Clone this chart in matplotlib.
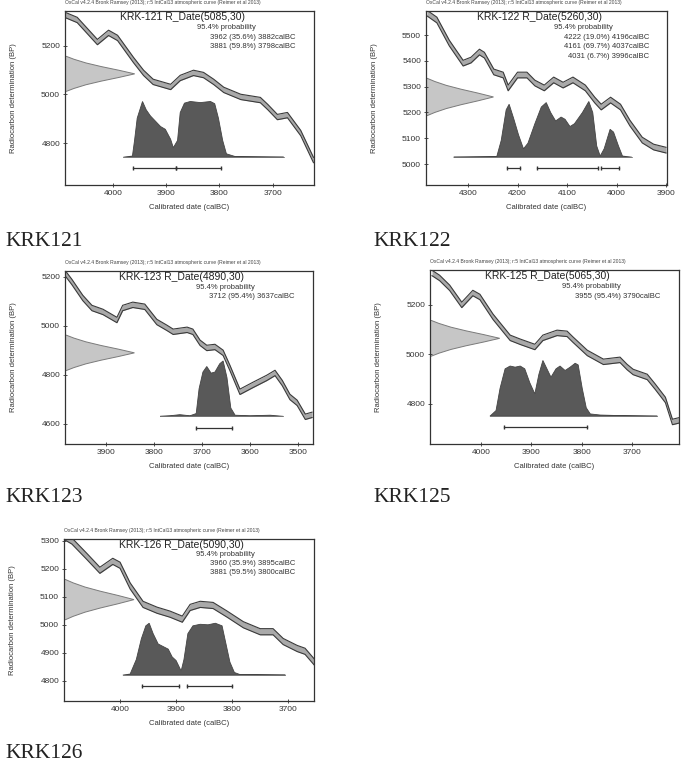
import matplotlib
matplotlib.use("Agg")
import matplotlib.pyplot as plt
import matplotlib.transforms as mtransforms

# ================= data =================
header = "OxCal v4.2.4 Bronk Ramsey (2013); r:5 IntCal13 atmospheric curve (Reimer et al 2013)"

# shape of the radiocarbon measurement (offset in sigma, relative density)
c14_sigma_steps = [-2.4, -2.0, -1.5, -1.0, -0.5, 0.0, 0.5, 1.0, 1.5, 2.0, 2.4]
c14_density = [0.02, 0.13, 0.3, 0.52, 0.77, 1.0, 0.77, 0.52, 0.3, 0.13, 0.02]

# --- KRK-121 ---
krk121_date = (5085, 30)
krk121_curve_cal = [4091, 4068, 4030, 4009, 3992, 3962, 3943, 3925, 3892, 3874, 3849, 3830,
                    3811, 3792, 3760, 3723, 3709, 3691, 3672, 3647, 3623]
krk121_curve_bp = [5328, 5307, 5216, 5254, 5233, 5142, 5089, 5052, 5031, 5068, 5089, 5080,
                   5052, 5019, 4990, 4977, 4948, 4907, 4915, 4841, 4730]
krk121_dist_cal = [3981, 3964, 3960, 3955, 3945, 3938, 3930, 3921, 3911, 3902, 3892, 3887,
                   3879, 3874, 3866, 3855, 3836, 3817, 3809, 3802, 3794, 3787, 3770, 3679]
krk121_dist_prob = [0, 0.02, 0.3, 0.7, 1.0, 0.85, 0.74, 0.65, 0.55, 0.5, 0.32, 0.17,
                    0.3, 0.8, 0.97, 1.0, 0.98, 1.0, 0.96, 0.7, 0.3, 0.06, 0.01, 0]
krk121_range_from = [3962, 3881]
krk121_range_to = [3882, 3798]
krk121_range_pct = [35.6, 59.8]

# --- KRK-122 ---
krk122_date = (5260, 30)
krk122_curve_cal = [4383, 4363, 4338, 4310, 4294, 4277, 4267, 4248, 4229, 4219, 4200, 4181, 4165,
                    4146, 4127, 4108, 4088, 4063, 4044, 4031, 4012, 3992, 3973, 3948, 3925, 3900]
krk122_curve_bp = [5585, 5558, 5469, 5391, 5403, 5434, 5422, 5357, 5345, 5295, 5345, 5345, 5314,
                   5295, 5326, 5306, 5326, 5295, 5248, 5221, 5248, 5221, 5159, 5093, 5066, 5054]
krk122_dist_cal = [4329, 4242, 4233, 4223, 4217, 4208, 4198, 4188, 4179, 4165, 4152, 4142, 4133,
                   4123, 4112, 4104, 4094, 4085, 4069, 4056, 4048, 4040, 4033, 4025, 4013, 4006,
                   3996, 3988, 3969]
krk122_dist_prob = [0, 0.01, 0.3, 0.85, 0.95, 0.7, 0.4, 0.15, 0.25, 0.6, 0.9, 0.98, 0.8,
                    0.65, 0.72, 0.68, 0.55, 0.6, 0.8, 1.0, 0.8, 0.2, 0.02, 0.15, 0.5, 0.45,
                    0.2, 0.02, 0]
krk122_range_from = [4222, 4161, 4031]
krk122_range_to = [4196, 4037, 3996]
krk122_range_pct = [19.0, 69.7, 6.7]

# --- KRK-123 ---
krk123_date = (4890, 30)
krk123_curve_cal = [3985, 3971, 3948, 3929, 3906, 3877, 3865, 3844, 3819, 3794, 3773, 3760, 3731, 3719,
                    3704, 3690, 3673, 3656, 3642, 3621, 3594, 3565, 3548, 3533, 3517, 3502, 3485, 3471]
krk123_curve_bp = [5216, 5180, 5114, 5073, 5057, 5024, 5073, 5086, 5078, 5016, 4992, 4976, 4984, 4976,
                   4931, 4910, 4914, 4890, 4829, 4731, 4759, 4788, 4808, 4767, 4710, 4686, 4629, 4637]
krk123_dist_cal = [3787, 3767, 3746, 3725, 3712, 3706, 3698, 3690, 3681, 3673, 3663, 3656,
                   3648, 3640, 3631, 3600, 3558, 3531]
krk123_dist_prob = [0, 0.01, 0.03, 0.01, 0.05, 0.5, 0.8, 0.9, 0.78, 0.8, 0.95, 1.0,
                    0.7, 0.15, 0.02, 0.01, 0.02, 0]
krk123_range_from = [3712]
krk123_range_to = [3637]
krk123_range_pct = [95.4]

# --- KRK-125 ---
krk125_date = (5065, 30)
krk125_curve_cal = [4097, 4082, 4062, 4038, 4016, 4002, 3976, 3942, 3922, 3893, 3877, 3849,
                    3829, 3817, 3789, 3757, 3724, 3710, 3698, 3670, 3654, 3634, 3620, 3604]
krk125_curve_bp = [5329, 5309, 5269, 5200, 5248, 5232, 5152, 5067, 5051, 5030, 5067, 5087,
                   5083, 5059, 5006, 4970, 4978, 4949, 4929, 4909, 4869, 4816, 4727, 4735]
krk125_dist_cal = [3982, 3970, 3962, 3952, 3942, 3932, 3922, 3913, 3903, 3893, 3885, 3877, 3869,
                   3861, 3851, 3843, 3833, 3823, 3813, 3807, 3799, 3791, 3783, 3763, 3724, 3650]
krk125_dist_prob = [0, 0.1, 0.5, 0.85, 0.9, 0.88, 0.9, 0.85, 0.6, 0.4, 0.75, 1.0, 0.85,
                    0.7, 0.85, 0.9, 0.82, 0.88, 0.95, 0.92, 0.5, 0.15, 0.04, 0.02, 0.01, 0]
krk125_range_from = [3955]
krk125_range_to = [3790]
krk125_range_pct = [95.4]

# --- KRK-126 ---
krk126_date = (5090, 30)
krk126_curve_cal = [4098, 4086, 4059, 4036, 4013, 4000, 3982, 3959, 3934, 3911, 3889,
                    3875, 3857, 3834, 3809, 3780, 3750, 3727, 3709, 3684, 3670, 3652]
krk126_curve_bp = [5314, 5300, 5244, 5195, 5227, 5213, 5139, 5073, 5052, 5038, 5020,
                   5062, 5073, 5069, 5038, 5000, 4975, 4975, 4940, 4915, 4905, 4863]
krk126_dist_cal = [3995, 3982, 3971, 3962, 3954, 3948, 3941, 3932, 3923, 3914, 3907, 3900, 3891,
                   3886, 3879, 3870, 3857, 3843, 3830, 3818, 3811, 3804, 3796, 3786, 3705]
krk126_dist_prob = [0, 0.02, 0.3, 0.7, 0.95, 1.0, 0.8, 0.6, 0.55, 0.5, 0.35, 0.28, 0.08,
                    0.3, 0.8, 0.95, 0.98, 0.97, 1.0, 0.95, 0.6, 0.25, 0.05, 0.01, 0]
krk126_range_from = [3960, 3881]
krk126_range_to = [3895, 3800]
krk126_range_pct = [35.9, 59.5]

# ================= layout (pixels in a 681x768 figure) =================
W, H = 681, 768
panels = [
    dict(name="KRK-121", caption="KRK121", date=krk121_date,
         curve=(krk121_curve_cal, krk121_curve_bp), dist=(krk121_dist_cal, krk121_dist_prob),
         ranges=(krk121_range_from, krk121_range_to, krk121_range_pct),
         box=(65, 11, 314, 185), xlim=(4091, 3622), ylim=(4627, 5344),
         xticks=[4000, 3900, 3800, 3700], yticks=[4800, 5000, 5200], cap=(5, 241)),
    dict(name="KRK-122", caption="KRK122", date=krk122_date,
         curve=(krk122_curve_cal, krk122_curve_bp), dist=(krk122_dist_cal, krk122_dist_prob),
         ranges=(krk122_range_from, krk122_range_to, krk122_range_pct),
         box=(426, 11, 667, 185), xlim=(4385, 3898), ylim=(4919, 5593),
         xticks=[4300, 4200, 4100, 4000, 3900], yticks=[5000, 5100, 5200, 5300, 5400, 5500], cap=(373, 241)),
    dict(name="KRK-123", caption="KRK123", date=krk123_date,
         curve=(krk123_curve_cal, krk123_curve_bp), dist=(krk123_dist_cal, krk123_dist_prob),
         ranges=(krk123_range_from, krk123_range_to, krk123_range_pct),
         box=(65, 271, 313, 444), xlim=(3985, 3469), ylim=(4518, 5224),
         xticks=[3900, 3800, 3700, 3600, 3500], yticks=[4600, 4800, 5000, 5200], cap=(5, 497)),
    dict(name="KRK-125", caption="KRK125", date=krk125_date,
         curve=(krk125_curve_cal, krk125_curve_bp), dist=(krk125_dist_cal, krk125_dist_prob),
         ranges=(krk125_range_from, krk125_range_to, krk125_range_pct),
         box=(430, 270, 679, 444), xlim=(4101, 3607), ylim=(4638, 5341),
         xticks=[4000, 3900, 3800, 3700], yticks=[4800, 5000, 5200], cap=(373, 497)),
    dict(name="KRK-126", caption="KRK126", date=krk126_date,
         curve=(krk126_curve_cal, krk126_curve_bp), dist=(krk126_dist_cal, krk126_dist_prob),
         ranges=(krk126_range_from, krk126_range_to, krk126_range_pct),
         box=(64, 539, 314, 701), xlim=(4100, 3654), ylim=(4727, 5307),
         xticks=[4000, 3900, 3800, 3700], yticks=[4800, 4900, 5000, 5100, 5200, 5300], cap=(5, 754)),
]

BAND = 11          # half width of the calibration band (BP)
DIST_BASE = 0.16   # axes fraction
DIST_H = 0.32
BAR_Y = 0.095
GAUSS_W = 0.28

plt.rcParams['font.family'] = ['Liberation Sans', 'DejaVu Sans']

fig = plt.figure(figsize=(W / 100, H / 100), dpi=100)

for p in panels:
    l, t, r, b = p["box"]
    ax = fig.add_axes([l / W, 1 - b / H, (r - l) / W, (b - t) / H])
    ax.set_xlim(*p["xlim"])
    ax.set_ylim(*p["ylim"])

    # === calibration curve band ===
    cal, bp = p["curve"]
    lo = [v - BAND for v in bp]
    hi = [v + BAND for v in bp]
    ax.fill_between(cal, lo, hi, color="#a9a9a9", lw=0, zorder=2)
    ax.plot(cal, lo, color="#3a3a3a", lw=0.8, zorder=3)
    ax.plot(cal, hi, color="#3a3a3a", lw=0.8, zorder=3)

    # === radiocarbon date on the y axis ===
    mean, sigma = p["date"]
    tr_y = mtransforms.blended_transform_factory(ax.transAxes, ax.transData)
    gx = [0] + [d * GAUSS_W for d in c14_density] + [0]
    gy = [mean + c14_sigma_steps[0] * sigma] + [mean + s * sigma for s in c14_sigma_steps] + \
         [mean + c14_sigma_steps[-1] * sigma]
    ax.fill(gx, gy, facecolor="#c6c6c6", edgecolor="#7a7a7a", lw=0.7, transform=tr_y, zorder=1)

    # === calibrated distribution ===
    tr_x = mtransforms.blended_transform_factory(ax.transData, ax.transAxes)
    dcal, dprob = p["dist"]
    dx = [dcal[0]] + list(dcal) + [dcal[-1]]
    dy = [DIST_BASE] + [DIST_BASE + v * DIST_H for v in dprob] + [DIST_BASE]
    ax.fill(dx, dy, facecolor="#595959", edgecolor="#444444", lw=0.6, transform=tr_x, zorder=4)
    ax.plot([dcal[0], dcal[-1]], [DIST_BASE, DIST_BASE], color="#777777", lw=0.6,
            transform=tr_x, zorder=4)

    # === 95.4% ranges ===
    r_from, r_to, r_pct = p["ranges"]
    for a, c in zip(r_from, r_to):
        ax.plot([a, c], [BAR_Y, BAR_Y], color="#333333", lw=0.9, marker="|", ms=2.5,
                transform=tr_x, zorder=5)

    # === texts ===
    ax.text(0.0, 1.035, header, transform=ax.transAxes, fontsize=3.6, color="#444444",
            va="bottom", ha="left")
    ax.text(0.47, 0.965, f"{p['name']} R_Date({mean},{sigma})", transform=ax.transAxes,
            fontsize=7.5, ha="center", va="center", color="#222222")
    ax.text(0.53, 0.905, "95.4% probability", transform=ax.transAxes, fontsize=5.5,
            ha="left", va="center", color="#333333")
    for i, (a, c, pc) in enumerate(zip(r_from, r_to, r_pct)):
        ax.text(0.925, 0.85 - i * 0.055, f"{a} ({pc}%) {c}calBC", transform=ax.transAxes,
                fontsize=5.5, ha="right", va="center", color="#333333")

    # === axes ===
    ax.set_xticks(p["xticks"])
    ax.set_yticks(p["yticks"])
    ax.tick_params(labelsize=6, length=3, width=0.6, direction="inout", colors="#333333", pad=2)
    for s in ax.spines.values():
        s.set_color("#333333")
        s.set_linewidth(0.9)
    ax.set_xlabel("Calibrated date (calBC)", fontsize=5.5, color="#333333", labelpad=5)
    ax.set_ylabel("Radiocarbon determination (BP)", fontsize=5.5, color="#333333")
    ax.yaxis.set_label_coords(-48 / (r - l), 0.5)

    # === caption below the chart ===
    cx, cy = p["cap"]
    fig.text(cx / W, 1 - cy / H, p["caption"], fontsize=15.5, family="Liberation Serif",
             ha="left", va="center", color="#222222")

fig.savefig("out.png", dpi=100)
